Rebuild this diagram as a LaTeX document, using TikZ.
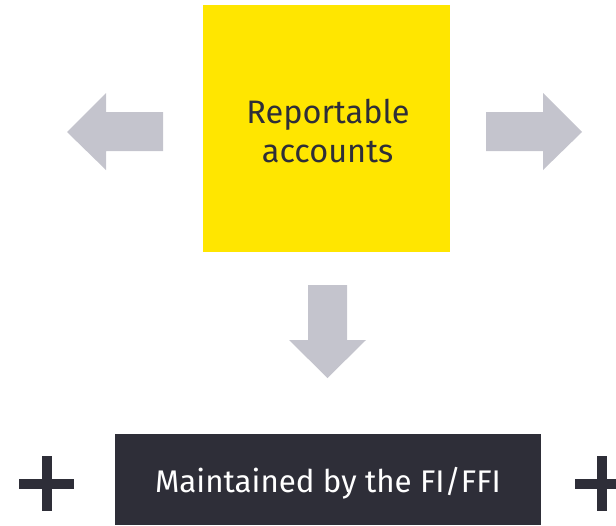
\documentclass[tikz,border=0pt]{standalone}
\usepackage{fontspec}
\setmainfont{Fira Sans}
\definecolor{eyyellow}{HTML}{FFE600}
\definecolor{eydark}{HTML}{2E2E38}
\definecolor{eygray}{HTML}{C4C4CD}
\begin{document}
\begin{tikzpicture}[x=1pt,y=-1pt,
  yellowbox/.style={fill=eyyellow,draw=none,minimum width=247pt,minimum height=247pt,inner sep=0pt},
  yellowtext/.style={text=eydark,anchor=base,inner sep=0pt,font=\fontsize{32.5}{39}\selectfont},
  darkbox/.style={fill=eydark,draw=none,minimum width=426pt,minimum height=91pt,inner sep=0pt},
  darktext/.style={text=white,anchor=base,inner sep=0pt,font=\fontsize{31.3}{36}\selectfont},
  blockarrow/.style={fill=eygray,draw=none},
  plusbar/.style={fill=eydark,draw=none}]
\useasboundingbox (0,0) rectangle (616,525);
\node[yellowbox] (rep) at (326.5,128.5) {};
\node[yellowtext] (rep1) at (328,123) {Reportable};
\node[yellowtext] (rep2) at (327.5,162) {accounts};
\node[darkbox] (maint) at (328,479.5) {};
\node[darktext] (mtext) at (328,492.5) {Maintained by the FI/FFI};
% left arrow
\fill[blockarrow] (67,132) -- (106,93) -- (106,112) -- (163,112) -- (163,151) -- (106,151) -- (106,170) -- cycle;
% right arrow
\fill[blockarrow] (582,132) -- (543,93) -- (543,112) -- (486,112) -- (486,151) -- (543,151) -- (543,170) -- cycle;
% down arrow
\fill[blockarrow] (327.5,378) -- (289,340) -- (308,340) -- (308,285) -- (347,285) -- (347,340) -- (366,340) -- cycle;
% plus signs
\fill[plusbar] (19,479) rectangle (74,489);
\fill[plusbar] (42,456) rectangle (52,511);
\fill[plusbar] (575,479) rectangle (630,489);
\fill[plusbar] (597,456) rectangle (607,511);
\end{tikzpicture}
\end{document}
